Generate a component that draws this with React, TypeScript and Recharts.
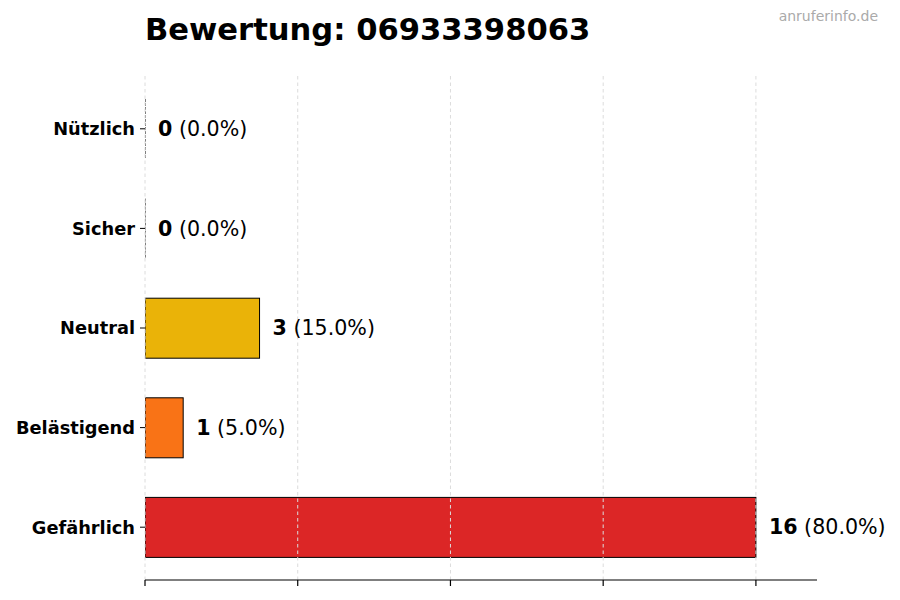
import React from 'react';
import { BarChart, Bar, XAxis, YAxis, ReferenceLine, LabelList, Cell } from 'recharts';

const categories = ['Nützlich', 'Sicher', 'Neutral', 'Belästigend', 'Gefährlich'];
const counts = [0, 0, 3, 1, 16];
const colors = ['#16a34a', '#22c55e', '#eab308', '#f97316', '#dc2626'];
const xTicks = [0, 4, 8, 12, 16];

const total = counts.reduce((a, b) => a + b, 0);
const data = categories.map((name, i) => ({
  name,
  value: counts[i],
  pct: total ? (counts[i] / total) * 100 : 0,
}));

const FONT = 'DejaVu Sans, sans-serif';

const BarShape = (props: any) => {
  const { x, y, width, height, fill } = props;
  if (!width || width < 0.5) {
    return <line x1={x} x2={x} y1={y} y2={y + height} stroke="#000" strokeWidth={1} strokeDasharray="3 1" />;
  }
  return <rect x={x} y={y} width={width} height={height} fill={fill} stroke="#000" strokeWidth={1} />;
};

const ValueLabel = (props: any) => {
  const { x, y, width, height, index } = props;
  const d = data[index];
  return (
    <text
      x={x + width + 13}
      y={y + height / 2}
      dominantBaseline="central"
      fontFamily={FONT}
      fontSize={20.6}
      fill="#000"
    >
      <tspan fontWeight="bold">{d.value}</tspan>
      <tspan> ({d.pct.toFixed(1)}%)</tspan>
    </text>
  );
};

export default function App() {
  return (
    <div style={{ position: 'absolute', left: 0, top: 0, width: 900, height: 600, background: '#fff' }}>
      <div
        style={{
          position: 'absolute',
          left: 145,
          top: 12,
          fontFamily: FONT,
          fontWeight: 'bold',
          fontSize: 30.6,
          color: '#000',
          whiteSpace: 'nowrap',
        }}
      >
        Bewertung: 06933398063
      </div>
      <div
        style={{
          position: 'absolute',
          right: 22,
          top: 8,
          fontFamily: FONT,
          fontSize: 14,
          color: '#aaaaaa',
          whiteSpace: 'nowrap',
        }}
      >
        anruferinfo.de
      </div>
      <BarChart
        width={900}
        height={600}
        data={data}
        layout="vertical"
        margin={{ top: 76, right: 83, bottom: 0, left: 0 }}
        barCategoryGap={0}
      >
        <XAxis
          type="number"
          domain={[0, 17.6]}
          ticks={xTicks}
          height={20}
          axisLine={{ stroke: '#000', strokeWidth: 1.2 }}
          tickLine={{ stroke: '#000', strokeWidth: 1.2 }}
          tickSize={6}
          tick={() => <g />}
          allowDataOverflow
        />
        <YAxis
          type="category"
          dataKey="name"
          width={145}
          axisLine={false}
          tickLine={{ stroke: '#000' }}
          tickSize={5}
          tickMargin={5}
          padding={{ top: 3, bottom: 3 }}
          tick={{ fontFamily: FONT, fontWeight: 'bold', fontSize: 17.8, fill: '#000' }}
        />
        {xTicks.map((t) => (
          <ReferenceLine key={t} x={t} stroke="#dcdcdc" strokeDasharray="3.5 3" />
        ))}
        <Bar dataKey="value" barSize={60} isAnimationActive={false} shape={<BarShape />}>
          {data.map((d, i) => (
            <Cell key={d.name} fill={colors[i]} />
          ))}
          <LabelList dataKey="value" content={<ValueLabel />} />
        </Bar>
      </BarChart>
    </div>
  );
}
